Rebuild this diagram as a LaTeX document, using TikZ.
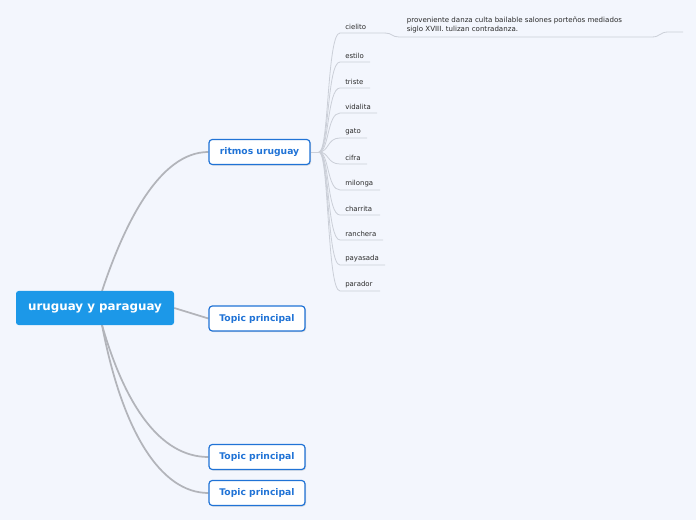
\documentclass[tikz,border=0pt]{standalone}
\usepackage{fontspec}
\setmainfont{DejaVu Sans}
\usetikzlibrary{shadows}
\definecolor{bg}{HTML}{F3F6FD}
\definecolor{cfill}{HTML}{1C98E8}
\definecolor{tblue}{HTML}{2073D6}
\definecolor{mline}{HTML}{B2B4BA}
\definecolor{sline}{HTML}{CBCFD8}
\definecolor{stext}{HTML}{2A2A2A}
\pgfdeclarelayer{bgl}
\pgfdeclarelayer{lines}
\pgfsetlayers{bgl,lines,main}
\begin{document}
\begin{tikzpicture}[x=0.75pt,y=-0.75pt,
  central/.style={fill=cfill,text=white,font=\bfseries\fontsize{8.9pt}{10.5pt}\selectfont,
    rounded corners=2pt,minimum width=118.5pt,minimum height=25.5pt,inner sep=0pt},
  topic/.style={draw=tblue,line width=0.9pt,fill=white,text=tblue,
    font=\bfseries\fontsize{6.9pt}{8.2pt}\selectfont,rounded corners=2.5pt,
    minimum height=18.75pt,inner sep=0pt,
    drop shadow={shadow xshift=0.8pt,shadow yshift=-0.8pt,opacity=0.25}},
  sub/.style={text=stext,font=\fontsize{5.2pt}{6pt}\selectfont,inner xsep=3.75pt,inner ysep=2.2pt,anchor=south west},
  detail/.style={text=stext,font=\fontsize{5.3pt}{6.9pt}\selectfont,align=left,inner sep=0pt,anchor=north west},
  mainline/.style={draw=mline,line width=1.3pt},
  subline/.style={draw=sline,line width=0.6pt}]
\begin{pgfonlayer}{bgl}
\fill[bg] (0,0) rectangle (696,520);
\end{pgfonlayer}
\useasboundingbox (0,0) rectangle (696,520);

\node[central] (c) at (95,308) {uruguay y paraguay};
\node[topic,minimum width=75.75pt] (r) at (259.5,152) {ritmos uruguay};
\node[topic,minimum width=72pt] (t1) at (257,318.5) {Topic principal};
\node[topic,minimum width=72pt] (t2) at (257,457) {Topic principal};
\node[topic,minimum width=72pt] (t3) at (257,493) {Topic principal};

\coordinate (ctop) at (102,291);
\coordinate (cbot) at (102,325);
\coordinate (hub) at (319,152);

\begin{pgfonlayer}{lines}
\path[mainline] (ctop) .. controls (125,222) and (160,152) .. (r.west);
\path[mainline] (c.east) -- (t1.west);
\path[mainline] (cbot) .. controls (125,405) and (160,457) .. (t2.west);
\path[mainline] (cbot) .. controls (122,430) and (160,493) .. (t3.west);
\path[subline] (r.east) -- (hub);
\end{pgfonlayer}

\foreach \n/\t/\y/\e in {a/cielito/33/385, b/estilo/62/370, c/triste/88/370,
  d/vidalita/113/377, e/gato/138/367, f/cifra/164/367, g/milonga/190/380,
  h/charrita/215/380, i/ranchera/240/383, j/payasada/265/385, k/parador/291/380}{
  \node[sub] (s\n) at (340,\y) {\t};
  \begin{pgfonlayer}{lines}
  \path[subline] (hub) .. controls (329,152) and (327,\y) .. (s\n.south west) -- (\e,\y);
  \end{pgfonlayer}
}

% detail node
\node[detail] (dt) at (406.5,16.5) {proveniente danza culta bailable salones porteños mediados\\siglo XVIII. tulizan contradanza.};
\coordinate (d0) at (385,33);
\coordinate (d1) at (399,37);
\coordinate (d2) at (652,37);
\coordinate (d3) at (668,32);
\coordinate (d4) at (683,32);
\begin{pgfonlayer}{lines}
\path[subline] (d0) .. controls (392,33) and (392,37) .. (d1) -- (d2)
  .. controls (660,37) and (660,32) .. (d3) -- (d4);
\end{pgfonlayer}
\end{tikzpicture}
\end{document}
